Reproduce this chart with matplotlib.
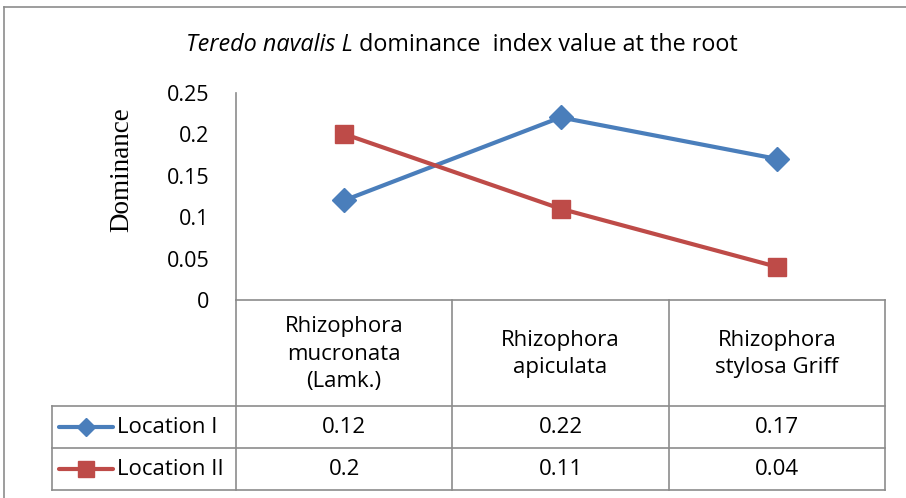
import numpy as np
import matplotlib
matplotlib.use('Agg')
import matplotlib.pyplot as plt

# data
species = ['Rhizophora\nmucronata\n(Lamk.)', 'Rhizophora\napiculata', 'Rhizophora\nstylosa Griff']
loc1 = [0.12, 0.22, 0.17]
loc2 = [0.2, 0.11, 0.04]
series_names = ['Location I', 'Location II']
yticks = [0, 0.05, 0.1, 0.15, 0.2, 0.25]
ytick_labels = ['0', '0.05', '0.1', '0.15', '0.2', '0.25']

W, H = 906, 498
blue = '#4A7EBB'
red = '#BE4B48'
grid_c = '#8C8C8C'
font = 'Open Sans'
fs = 16

fig = plt.figure(figsize=(W / 100, H / 100), dpi=100)

def fx(x):
    return x / W

def fy(y):
    return 1 - y / H

# overlay axes in pixel coords for border / table
over = fig.add_axes([0, 0, 1, 1])
over.set_xlim(0, W)
over.set_ylim(H, 0)
over.axis('off')

# outer chart border
over.plot([4, W + 5], [7, 7], color=grid_c, lw=1.2)
over.plot([4, 4], [7, H + 5], color=grid_c, lw=1.2)

# plot area
left, right, top, bottom = 236, 885, 92.5, 300
ax = fig.add_axes([fx(left), fy(bottom), fx(right - left), (bottom - top) / H])
ax.set_xlim(-0.5, 2.5)
ax.set_ylim(0, 0.25)
ax.set_facecolor('none')
for s in ['top', 'right']:
    ax.spines[s].set_visible(False)
for s in ['left', 'bottom']:
    ax.spines[s].set_color(grid_c)
    ax.spines[s].set_linewidth(1.2)
ax.set_xticks([])
ax.set_yticks(yticks)
ax.set_yticklabels(ytick_labels, fontsize=15.5, fontfamily=font)
ax.tick_params(axis='y', length=0, pad=19)

x = np.arange(len(species))
ax.plot(x, loc1, color=blue, lw=3, marker='D', ms=12.5, clip_on=False)
ax.plot(x, loc2, color=red, lw=3, marker='s', ms=13.5, clip_on=False)

# y axis title (Excel puts it a bit above the axis centre)
over.text(122, 170, 'Dominance', rotation=90, ha='center', va='center',
          fontsize=19.5, fontfamily='Liberation Serif')

# data table
col_w = (right - left) / len(species)
r0, r1, r2, r3 = bottom, 406, 448, 490
tab_left = 52
lc = grid_c
for i in range(len(species) + 1):
    xv = left + i * col_w
    over.plot([xv, xv], [r0, r3], color=lc, lw=1.2)
over.plot([tab_left, tab_left], [r1, r3], color=lc, lw=1.2)
for yv in [r1, r2, r3]:
    over.plot([tab_left, right], [yv, yv], color=lc, lw=1.2)

for i, name in enumerate(species):
    cx = left + (i + 0.5) * col_w
    over.text(cx, (r0 + r1) / 2 + 1, name, ha='center', va='center', fontsize=fs,
              fontfamily=font, linespacing=1.38)
    over.text(cx, (r1 + r2) / 2, str(loc1[i]), ha='center', va='center', fontsize=fs, fontfamily=font)
    over.text(cx, (r2 + r3) / 2, str(loc2[i]), ha='center', va='center', fontsize=fs, fontfamily=font)

for (yv0, yv1), nm, c, mk, ms in [((r1, r2), series_names[0], blue, 'D', 9),
                                  ((r2, r3), series_names[1], red, 's', 11)]:
    yc = (yv0 + yv1) / 2
    over.plot([59, 113], [yc, yc], color=c, lw=3, solid_capstyle='round')
    over.plot([86], [yc], marker=mk, color=c, ms=ms)
    over.text(117, yc, nm, ha='left', va='center', fontsize=fs, fontfamily=font)

# title with italic part
fig.canvas.draw()
r = fig.canvas.get_renderer()
t1 = fig.text(0, fy(45), 'Teredo navalis L', style='italic', fontsize=16.8,
              fontfamily=font, va='center', ha='left')
t2 = fig.text(0, fy(45), ' dominance  index value at the root', fontsize=16.8,
              fontfamily=font, va='center', ha='left')
w1 = t1.get_window_extent(r).width
w2 = t2.get_window_extent(r).width
x0 = 462 - (w1 + w2) / 2
t1.set_x(fx(x0))
t2.set_x(fx(x0 + w1))

fig.savefig('out.png', dpi=100)
